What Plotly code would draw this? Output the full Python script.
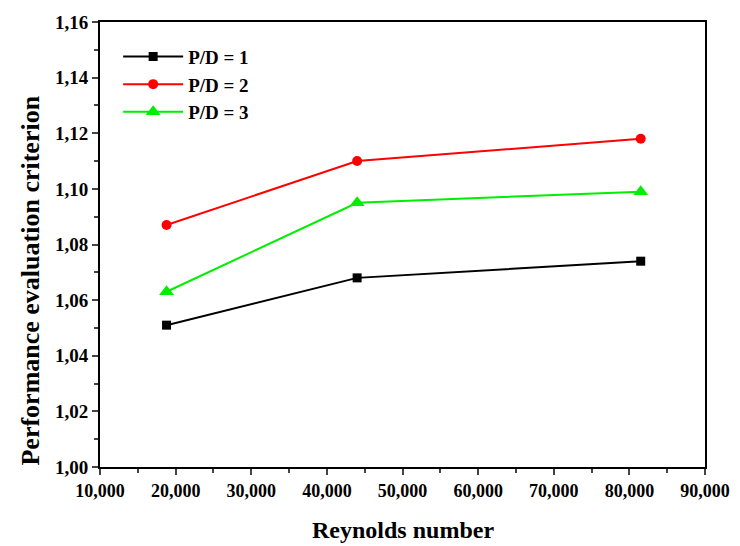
import plotly.graph_objects as go

reynolds = [18800, 44000, 81500]
pd1 = [1.051, 1.068, 1.074]
pd2 = [1.087, 1.110, 1.118]
pd3 = [1.063, 1.095, 1.099]
names = ["P/D = 1", "P/D = 2", "P/D = 3"]
colors = ["#000000", "#ff0000", "#00ee00"]
symbols = ["square", "circle", "triangle-up"]
sizes = [9, 10, 13]
yticks = [1.00, 1.02, 1.04, 1.06, 1.08, 1.10, 1.12, 1.14, 1.16]
ytext = ["1,00", "1,02", "1,04", "1,06", "1,08", "1,10", "1,12", "1,14", "1,16"]
xticks = [10000, 20000, 30000, 40000, 50000, 60000, 70000, 80000, 90000]
xtext = ["10,000", "20,000", "30,000", "40,000", "50,000", "60,000", "70,000", "80,000", "90,000"]

font = "Liberation Serif"
fig = go.Figure()
for ys, n, c, s, sz in zip([pd1, pd2, pd3], names, colors, symbols, sizes):
    fig.add_trace(go.Scatter(x=reynolds, y=ys, name="<b>" + n + "</b>", mode="lines+markers",
                             line=dict(color=c, width=2),
                             marker=dict(symbol=s, size=sz, color=c)))

fig.update_layout(
    width=732, height=538,
    margin=dict(l=92, r=35, t=14, b=79),
    plot_bgcolor="white", paper_bgcolor="white",
    font=dict(family=font, size=18, color="black"),
    showlegend=True,
    legend=dict(x=0.03, y=0.965, xanchor="left", yanchor="top",
                bgcolor="rgba(0,0,0,0)", itemwidth=60,
                font=dict(family=font, size=19, color="black"),
                tracegroupgap=0),
    xaxis=dict(range=[10000, 90000], tickvals=xticks, automargin=False,
               ticktext=["<b>" + t + "</b>" for t in xtext],
               showgrid=False, zeroline=False, showline=True, linecolor="black",
               linewidth=2, mirror=True, ticks="outside", ticklen=6, tickwidth=2,
               tickfont=dict(family=font, size=18, color="black"),
               minor=dict(dtick=5000, ticks="outside", ticklen=4, tickwidth=2, tick0=10000)),
    yaxis=dict(range=[1.00, 1.16], tickvals=yticks, automargin=False,
               ticktext=["<b>" + t + "</b>" for t in ytext],
               showgrid=False, zeroline=False, showline=True, linecolor="black",
               linewidth=2, mirror=True, ticks="outside", ticklen=6, tickwidth=2,
               tickfont=dict(family=font, size=19, color="black"),
               minor=dict(dtick=0.01, ticks="outside", ticklen=4, tickwidth=2, tick0=1.0)),
    annotations=[
        dict(text="<b>Reynolds number</b>", xref="paper", yref="paper", x=0.5, y=-0.142,
             xanchor="center", yanchor="middle", showarrow=False,
             font=dict(family=font, size=24, color="black")),
        dict(text="<b>Performance evaluation criterion</b>", xref="paper", yref="paper",
             x=-0.115, y=0.42, xanchor="center", yanchor="middle", textangle=-90,
             showarrow=False, font=dict(family=font, size=26, color="black")),
    ],
)
fig.write_html("out.html")
